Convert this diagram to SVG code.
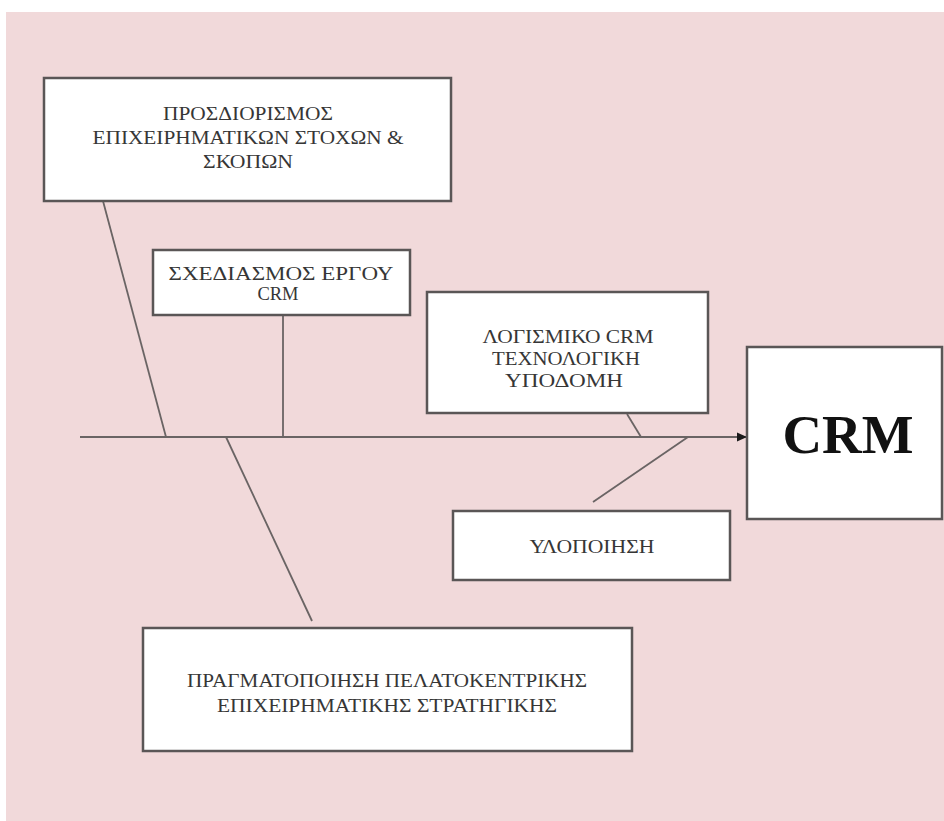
<svg xmlns="http://www.w3.org/2000/svg" width="944" height="821" viewBox="0 0 944 821">
  <style>
    .box { fill: #ffffff; stroke: #5a5656; stroke-width: 2.5; }
    .lbl { font-family: "Liberation Serif", "Times New Roman", serif; font-size: 18.5px; fill: #363636; text-anchor: middle; }
    .big { font-family: "Liberation Serif", "Times New Roman", serif; font-size: 55px; font-weight: bold; fill: #111111; text-anchor: middle; }
    .bone { stroke: #6a6464; stroke-width: 1.8; fill: none; }
  </style>
  <defs>
    <marker id="arrow" markerWidth="12" markerHeight="12" refX="10" refY="6" orient="auto" markerUnits="userSpaceOnUse">
      <path d="M0,1.5 L10,6 L0,10.5 Z" fill="#1a1a1a"/>
    </marker>
  </defs>

  <!-- background panel -->
  <rect x="0" y="0" width="944" height="821" fill="#ffffff"/>
  <rect x="6" y="12" width="938" height="809" fill="#f1d9da"/>

  <!-- spine and branches -->
  <g id="connectors">
    <line class="bone" x1="80" y1="437" x2="747" y2="437" marker-end="url(#arrow)"/>
    <line class="bone" x1="103" y1="201" x2="166" y2="437"/>
    <line class="bone" x1="283" y1="316" x2="283" y2="437"/>
    <line class="bone" x1="627" y1="414" x2="641" y2="437"/>
    <line class="bone" x1="688" y1="437" x2="593" y2="502"/>
    <line class="bone" x1="226" y1="437" x2="312" y2="621"/>
  </g>

  <g id="goals">
    <rect class="box" x="44" y="78" width="407" height="123"/>
    <text class="lbl" x="248" y="120" textLength="170" lengthAdjust="spacingAndGlyphs">ΠΡΟΣΔΙΟΡΙΣΜΟΣ</text>
    <text class="lbl" x="248" y="144" textLength="311" lengthAdjust="spacingAndGlyphs">ΕΠΙΧΕΙΡΗΜΑΤΙΚΩΝ ΣΤΟΧΩΝ &amp;</text>
    <text class="lbl" x="248" y="168" textLength="90" lengthAdjust="spacingAndGlyphs">ΣΚΟΠΩΝ</text>
  </g>

  <g id="project-design">
    <rect class="box" x="153" y="250" width="257" height="65"/>
    <text class="lbl" x="281" y="280" textLength="225" lengthAdjust="spacingAndGlyphs">ΣΧΕΔΙΑΣΜΟΣ ΕΡΓΟΥ</text>
    <text class="lbl" x="278" y="300">CRM</text>
  </g>

  <g id="software">
    <rect class="box" x="427" y="292" width="281" height="121"/>
    <text class="lbl" x="568" y="343" textLength="171" lengthAdjust="spacingAndGlyphs">ΛΟΓΙΣΜΙΚΟ CRM</text>
    <text class="lbl" x="566" y="365" textLength="148" lengthAdjust="spacingAndGlyphs">ΤΕΧΝΟΛΟΓΙΚΗ</text>
    <text class="lbl" x="564" y="387" textLength="118" lengthAdjust="spacingAndGlyphs">ΥΠΟΔΟΜΗ</text>
  </g>

  <g id="crm">
    <rect class="box" x="747" y="347" width="195" height="172"/>
    <text class="big" x="848" y="453" textLength="131" lengthAdjust="spacingAndGlyphs">CRM</text>
  </g>

  <g id="implementation">
    <rect class="box" x="453" y="511" width="277" height="69"/>
    <text class="lbl" x="592" y="553" textLength="125" lengthAdjust="spacingAndGlyphs">ΥΛΟΠΟΙΗΣΗ</text>
  </g>

  <g id="strategy">
    <rect class="box" x="143" y="628" width="489" height="123"/>
    <text class="lbl" x="387" y="687" textLength="400" lengthAdjust="spacingAndGlyphs">ΠΡΑΓΜΑΤΟΠΟΙΗΣΗ ΠΕΛΑΤΟΚΕΝΤΡΙΚΗΣ</text>
    <text class="lbl" x="387" y="712" textLength="340" lengthAdjust="spacingAndGlyphs">ΕΠΙΧΕΙΡΗΜΑΤΙΚΗΣ ΣΤΡΑΤΗΓΙΚΗΣ</text>
  </g>
</svg>
